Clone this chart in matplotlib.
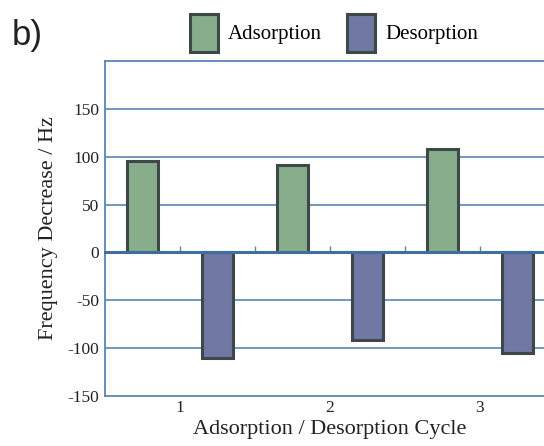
import matplotlib.pyplot as plt
from matplotlib.patches import Patch

# frequency decrease per cycle (Hz), adsorption up / desorption down
cycles = ["1", "2", "3"]
adsorption = [96, 91, 108]
desorption = [-110, -92, -105]

green = "#88ad8b"
purple = "#6f79a3"
edge = "#3e4848"
blue = "#5a86b2"

plt.rcParams['font.family'] = ['Liberation Serif', 'DejaVu Serif']

fig = plt.figure(figsize=(5.44, 4.46), dpi=100)
ax = fig.add_axes([105/544, 50/446, 450/544, 335/446])

# bars alternate: adsorption then desorption for each cycle
pos_ads = [2*i for i in range(len(cycles))]
pos_des = [2*i + 1 for i in range(len(cycles))]
ax.bar(pos_ads, adsorption, width=0.42, color=green, edgecolor=edge, linewidth=2.2, zorder=3)
ax.bar(pos_des, desorption, width=0.42, color=purple, edgecolor=edge, linewidth=2.2, zorder=3)

ax.set_xlim(-0.5, 5.5)
ax.set_ylim(-150, 200)

ax.set_yticks([-150, -100, -50, 0, 50, 100, 150])
ax.set_yticklabels(["-150", "-100", "-50", "0", "50", "100", "150"])
for y in [-100, -50, 50, 100, 150]:
    ax.axhline(y, color=blue, lw=1.2, zorder=1)

ax.set_xticks([2*i + 0.5 for i in range(len(cycles))])
ax.set_xticklabels(cycles)
ax.tick_params(axis='both', length=0, labelsize=12.5, colors='#222222')
ax.tick_params(axis='y', pad=4)
ax.tick_params(axis='x', pad=3)

for s in ['left', 'top', 'bottom']:
    ax.spines[s].set_color(blue)
    ax.spines[s].set_linewidth(1.3)
ax.spines['right'].set_visible(False)

# zero line with small ticks between bars
zero = ax.secondary_xaxis(0, transform=ax.transData)
zero.set_xticks([i + 0.5 for i in range(5)])
zero.tick_params(direction='in', length=4, width=1, color=blue, labelbottom=False)
zero.spines['bottom'].set_color('#3f6f9f')
zero.spines['bottom'].set_linewidth(2.2)
zero.set_zorder(4)

ax.set_ylabel("Frequency Decrease / Hz", fontsize=16, color='#222222', labelpad=7)
ax.set_xlabel("Adsorption / Desorption Cycle", fontsize=16, color='#222222', labelpad=3)

handles = [Patch(facecolor=green, edgecolor=edge, linewidth=2.2, label="Adsorption"),
           Patch(facecolor=purple, edgecolor=edge, linewidth=2.2, label="Desorption")]
fig.legend(handles=handles, loc='center', bbox_to_anchor=(334/544, 1 - 33/446), ncol=2,
           frameon=False, fontsize=15, handlelength=1.35, handleheight=2.4,
           handletextpad=0.5, columnspacing=1.2)

fig.text(12/544, 1 - 36/446, "b)", family='Liberation Sans', fontsize=25,
         va='center', ha='left', color='#222222')

fig.savefig("out.png", dpi=100)
